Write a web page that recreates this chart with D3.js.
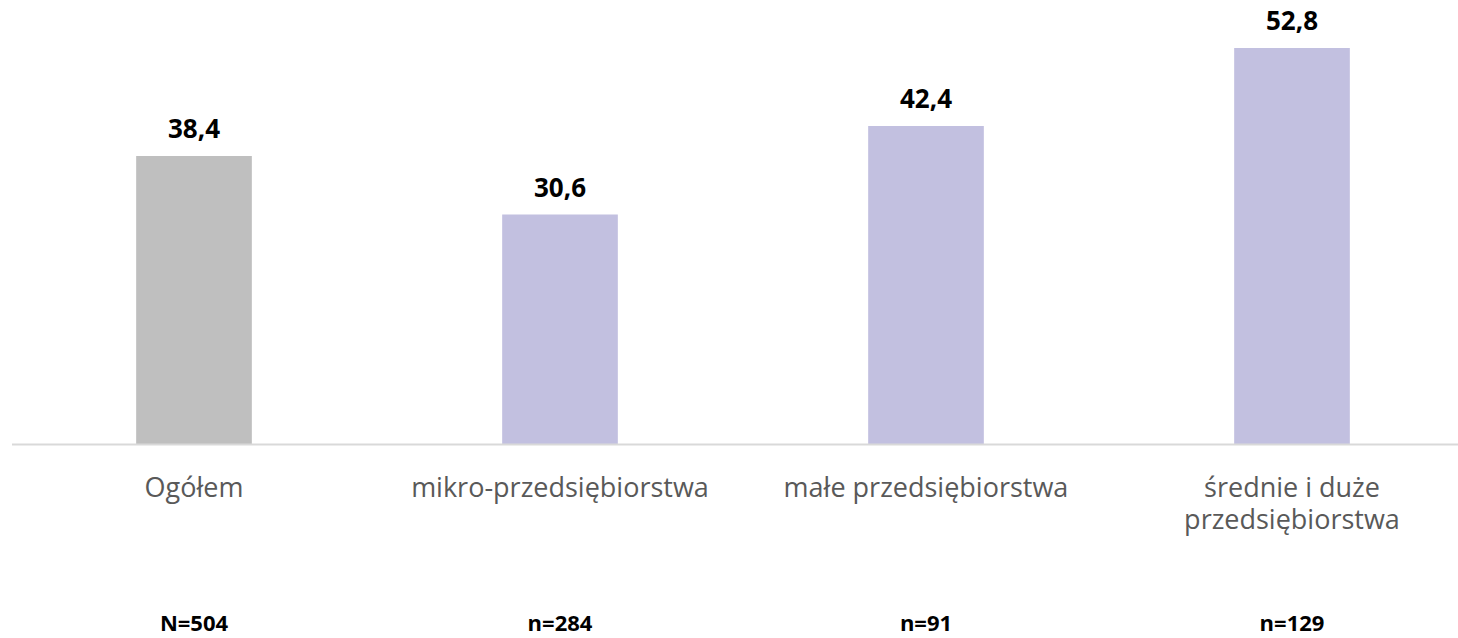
<!DOCTYPE html>
<html>
<head>
<meta charset="utf-8">
<script src="https://cdn.jsdelivr.net/npm/d3@7"></script>
<style>
  body { margin: 0; background: #fff; }
  svg { display: block; }
</style>
</head>
<body>
<div id="chart"></div>
<script>
var categories = ["Ogółem", "mikro-przedsiębiorstwa", "małe przedsiębiorstwa", "średnie i duże przedsiębiorstwa"];
var labelLines = [["Ogółem"], ["mikro-przedsiębiorstwa"], ["małe przedsiębiorstwa"], ["średnie i duże", "przedsiębiorstwa"]];
var values = [38.4, 30.6, 42.4, 52.8];
var sampleSizes = ["N=504", "n=284", "n=91", "n=129"];
var barColors = ["#bfbfbf", "#c2c0e0", "#c2c0e0", "#c2c0e0"];

var width = 1458, height = 638;
var baseY = 444;

var svg = d3.select("#chart").append("svg")
	.attr("width", width)
	.attr("height", height);

var x = d3.scaleBand()
	.domain(categories)
	.range([11, 1475])
	.paddingInner(0.684)
	.paddingOuter(0.342);

var y = d3.scaleLinear()
	.domain([0, 52.8])
	.range([baseY, 48]);

svg.selectAll("rect.bar")
	.data(values)
	.enter()
	.append("rect")
	.attr("class", "bar")
	.attr("x", function(d, i) { return x(categories[i]); })
	.attr("width", x.bandwidth())
	.attr("y", function(d) { return y(d); })
	.attr("height", function(d) { return baseY - y(d); })
	.attr("fill", function(d, i) { return barColors[i]; });

svg.append("line")
	.attr("x1", 12).attr("x2", width)
	.attr("y1", baseY + 0.5).attr("y2", baseY + 0.5)
	.attr("stroke", "#d9d9d9")
	.attr("stroke-width", 2);

svg.selectAll("text.val")
	.data(values)
	.enter()
	.append("text")
	.attr("class", "val")
	.attr("x", function(d, i) { return x(categories[i]) + x.bandwidth() / 2; })
	.attr("y", function(d) { return y(d) - 18; })
	.attr("text-anchor", "middle")
	.attr("font-family", "'Open Sans', sans-serif")
	.attr("font-weight", "bold")
	.attr("font-size", 26)
	.attr("fill", "#000")
	.text(function(d) { return String(d).replace(".", ","); });

// category labels, two lines for the last one
var catLabels = svg.selectAll("text.cat")
	.data(labelLines)
	.enter()
	.append("text")
	.attr("class", "cat")
	.attr("text-anchor", "middle")
	.attr("font-family", "'Open Sans', sans-serif")
	.attr("font-size", 27)
	.attr("fill", "#595959");

catLabels.selectAll("tspan")
	.data(function(d, i) { return d.map(function(t) { return { t: t, i: i }; }); })
	.enter()
	.append("tspan")
	.attr("x", function(d) { return x(categories[d.i]) + x.bandwidth() / 2; })
	.attr("y", function(d, j) { return 497 + j * 32; })
	.text(function(d) { return d.t; });

svg.selectAll("text.n")
	.data(sampleSizes)
	.enter()
	.append("text")
	.attr("class", "n")
	.attr("x", function(d, i) { return x(categories[i]) + x.bandwidth() / 2; })
	.attr("y", 631)
	.attr("text-anchor", "middle")
	.attr("font-family", "'Open Sans', sans-serif")
	.attr("font-weight", "bold")
	.attr("font-size", 22)
	.attr("fill", "#000")
	.text(function(d) { return d; });
</script>
</body>
</html>
